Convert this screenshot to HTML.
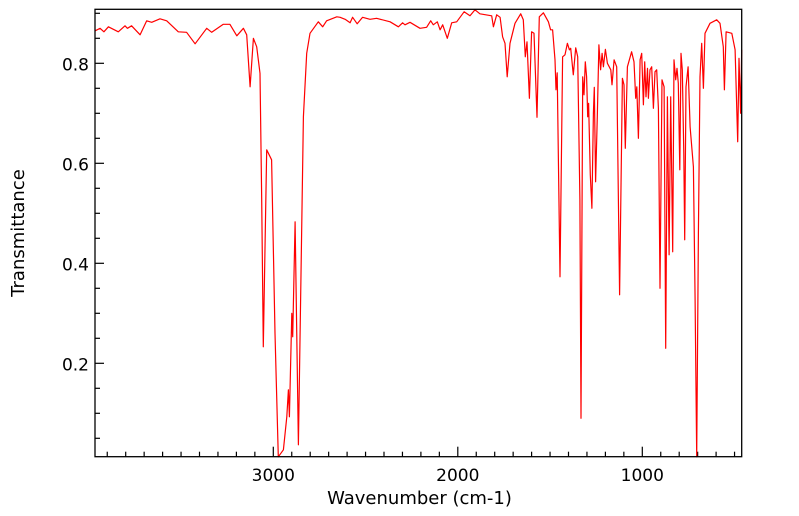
<!DOCTYPE html>
<html><head><meta charset="utf-8"><style>
html,body{margin:0;padding:0;background:#fff;width:799px;height:516px;overflow:hidden}
svg text{font-family:"DejaVu Sans","Liberation Sans",sans-serif;fill:#000}
</style></head><body>
<svg id="chart" width="799" height="516" viewBox="0 0 799 516">
<g id="axes"></g>
<polyline id="spectrum" fill="none" stroke="#ff0000" stroke-width="1.2" stroke-linejoin="round"></polyline>
<rect x="95" y="9.3" width="646.7" height="447.4" fill="none" stroke="#000" stroke-width="1.3"></rect>
<text x="419.5" y="504" font-size="18" text-anchor="middle">Wavenumber (cm-1)</text>
<text x="0" y="0" font-size="18" text-anchor="middle" transform="translate(24,233) rotate(-90)">Transmittance</text>
</svg>
<script>
const wavenumbers=[3966,3939,3918,3894,3840,3804,3791,3768,3722,3686,3659,3614,3578,3515,3470,3424,3361,3334,3271,3235,3198,3162,3144,3126,3108,3090,3072,3063,3054,3036,3009,2991,2973,2945,2927,2918,2913,2900,2895,2882,2864,2837,2819,2801,2756,2732,2711,2656,
2638,2611,2584,2570,2545,2516,2476,2440,2367,2322,2299,2286,2259,2205,2169,2147,2133,2111,2096,2082,2057,2033,2006,1966,1934,1907,1880,
1816,1807,1789,1771,1757,1744,1732,1717,1690,1659,1645,1634,1625,1612,1600,1587,1571,1558,1536,1509,1497,1486,1473,1468,1461,1446,1432,1419,1406,1395,1388,1374,1361,1350,1338,1332,1323,1316,1309,1302,1296,1291,1282,1273,1265,1260,1253,1244,1235,1226,1218,1211,1200,1189,1171,1164,1153,1139,1123,1108,1099,1092,1081,1058,1045,1036,1030,1021,1012,1003,994,987,980,972,967,958,949,940,931,922,913,904,893,882,873,864,855,846,835,828,819,812,805,797,790,783,775,770,763,752,741,723,714,705,696,687,678,669,660,633,597,579,561,555,546,515,497,483,476,467,461];
const transmittance=[0.865,0.870,0.863,0.873,0.863,0.875,0.870,0.875,0.857,0.885,0.882,0.889,0.885,0.863,0.862,0.839,0.870,0.862,0.878,0.878,0.855,0.870,0.857,0.753,0.850,0.833,0.780,0.527,0.233,0.627,0.607,0.260,0.013,0.027,0.093,0.147,0.093,0.300,0.253,0.483,0.037,0.693,0.820,0.860,0.883,0.873,0.885,0.893,
0.892,0.888,0.881,0.892,0.879,0.892,0.888,0.890,0.883,0.873,0.881,0.877,0.882,0.870,0.872,0.885,0.877,0.883,0.867,0.877,0.850,0.881,0.883,0.903,0.895,0.907,0.899,
0.895,0.873,0.897,0.892,0.853,0.840,0.773,0.840,0.880,0.899,0.887,0.813,0.843,0.730,0.863,0.860,0.692,0.893,0.901,0.883,0.867,0.867,0.807,0.747,0.781,0.373,0.813,0.817,0.840,0.827,0.830,0.777,0.831,0.813,0.527,0.090,0.773,0.737,0.803,0.773,0.693,0.720,0.577,0.510,0.700,0.752,0.563,0.693,0.837,0.787,0.820,0.793,0.828,0.800,0.787,0.757,0.807,0.793,0.337,0.770,0.757,0.630,0.793,0.823,0.803,0.730,0.753,0.650,0.807,0.820,0.717,0.803,0.733,0.790,0.730,0.787,0.793,0.710,0.783,0.787,0.710,0.350,0.767,0.753,0.230,0.733,0.417,0.733,0.423,0.807,0.767,0.790,0.760,0.587,0.820,0.787,0.620,0.447,0.753,0.793,0.673,0.593,0.327,0.013,0.460,0.773,0.840,0.750,0.860,0.880,0.887,0.880,0.833,0.747,0.863,0.860,0.827,0.643,0.810,0.700,0.827];
const xTickLabels=[3000,2000,1000];
const yTickLabels=[0.2,0.4,0.6,0.8];

const L=95,R=741.7,T=9.3,B=456.7;
const xScale=v=>273.3+(3000-v)*0.1845;
const yScale=v=>63.3+(0.8-v)*500;
const NS="http://www.w3.org/2000/svg";
const axes=document.getElementById('axes');
function mk(tag,attrs){const e=document.createElementNS(NS,tag);for(const k in attrs)e.setAttribute(k,attrs[k]);return e;}
for(let w=3900;w>=500;w-=100){
  const x=xScale(w); if(x<L||x>R)continue;
  const major=w%1000===0;
  const t=mk('line',{x1:x,x2:x,y1:B,y2:B-(major?10:5),stroke:'#000','stroke-width':1.2});
  
  
  axes.appendChild(t);
}
xTickLabels.forEach(v=>{
  const t=mk('text',{x:xScale(v),y:481,'font-size':17,'text-anchor':'middle'});
  t.textContent=String(v);
  
  
  axes.appendChild(t);
});
for(let i=1;i<=18;i++){
  const v=i*0.05; const y=yScale(v); if(y<T||y>B)continue;
  const major=i%4===0;
  const t=mk('line',{x1:L,x2:L+(major?9:5),y1:y,y2:y,stroke:'#000','stroke-width':1.2});
  
  
  axes.appendChild(t);
}
yTickLabels.forEach(v=>{
  const t=mk('text',{x:89,y:yScale(v)+7,'font-size':17,'text-anchor':'end'});
  t.textContent=v.toFixed(1);
  
  
  axes.appendChild(t);
});
const pts=wavenumbers.map((w,i)=>xScale(w).toFixed(1)+','+yScale(transmittance[i]).toFixed(1)).join(' ');
document.getElementById('spectrum').setAttribute('points',pts);
</script>
</body></html>
